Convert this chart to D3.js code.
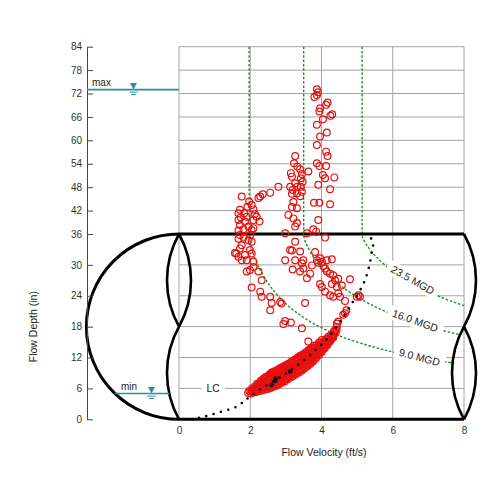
<!DOCTYPE html>
<html>
<head>
<meta charset="utf-8">
<title>Flow Depth vs Flow Velocity</title>
<style>
  body { margin: 0; background: #fff; }
  text { font-family: "Liberation Sans", Arial, sans-serif; }
</style>
</head>
<body>
<script src="https://d3js.org/d3.v7.min.js"></script>
<script>

var xTicks = [0, 2, 4, 6, 8];
var yTicks = [0, 6, 12, 18, 24, 30, 36, 42, 48, 54, 60, 66, 72, 78, 84];
var pipeDiam = 36;       // in
var maxLevel = 73;       // in
var minLevel = 5;        // in
var mgdNames = ["23.5 MGD", "16.0 MGD", "9.0 MGD"];

// iso-flow lines [velocity ft/s, depth in]
var iso235 = [[5.14,84],[5.14,36],[5.36,33],[5.78,30],[6.39,27],[7.26,24],[7.62,23],[8.0,22.1]];
var iso16  = [[3.5,84],[3.5,36],[3.65,33],[3.93,30],[4.35,27],[4.95,24],[5.78,21],[6.54,19],[7.0,18],[7.54,17],[7.9,16.4]];
var iso9   = [[1.97,84],[1.97,36],[2.05,33],[2.21,30],[2.45,27],[2.78,24],[3.25,21],[3.94,18],[5.0,15],[6.75,12],[7.72,10.9]];

// LC curve
var lcCurve = [[0.35,0],[0.7,0.5],[1.15,1.4],[1.57,2.3],[1.81,3.4],[1.97,4.3],[2.4,6.4],[2.8,8.0],[3.2,9.9],
  [3.6,12.0],[4.0,14.5],[4.3,16.8],[4.61,19.9],[4.86,22.6],[5.0,24.1],[5.2,26.7],[5.34,29.8],[5.42,32.9],
  [5.45,34.4],[5.32,35.8]];

// observed points, scattered part
var obsScatter = [
  [3.87,73.1],[3.90,72.3],[3.87,71.6],[3.80,71.1],[4.17,69.7],[4.13,69.1],[3.96,68.2],[3.94,67.4],[4.30,66.7],
  [4.25,66.3],[4.04,65.4],[3.87,64.0],[4.15,62.0],[3.96,61.0],[3.87,58.8],[4.13,57.1],[4.17,56.0],[3.26,56.0],
  [3.87,54.1],[3.94,53.4],[4.13,53.4],[3.63,52.0],[3.23,54.1],[3.32,53.3],[3.40,52.6],[3.45,51.4],[3.42,50.3],
  [3.47,49.4],[3.14,51.6],[3.17,50.7],[4.04,51.1],[4.10,50.3],[4.36,50.5],[3.26,49.0],[3.32,48.1],[3.42,48.1],
  [3.12,48.1],[3.19,47.3],[3.45,46.8],[3.31,46.4],[3.40,45.7],[3.17,46.3],[3.91,48.6],[4.24,47.5],[2.79,48.1],
  [2.56,46.6],[2.35,46.2],[2.28,45.6],[2.23,45.2],[1.76,45.6],[1.97,44.3],[2.04,43.4],[1.92,43.0],[2.09,42.3],
  [1.71,42.2],[1.67,41.3],[1.83,41.3],[1.73,40.3],[1.90,40.4],[2.13,41.1],[2.18,40.4],[2.09,39.6],[2.26,39.2],
  [1.85,39.2],[1.67,39.6],[1.71,38.3],[1.95,37.9],[1.81,37.2],[2.04,37.0],[1.67,36.9],[2.09,37.5],[3.21,44.2],
  [3.17,42.9],[3.31,42.6],[3.07,40.9],[3.21,40.0],[3.31,38.8],[3.26,37.9],[3.94,44.0],[3.79,44.0],[4.24,43.6],
  [3.91,39.6],[3.77,37.2],[3.85,36.6],[3.59,36.2],[2.98,36.2],[4.10,35.3],
  [1.71,35.8],[1.67,35.1],[1.81,35.3],[1.95,34.8],[2.04,34.5],[2.0,35.8],[1.76,33.8],[1.71,33.2],[1.61,32.2],
  [1.57,32.3],[1.67,31.6],[1.76,30.9],[1.85,31.9],[1.99,32.9],[2.04,32.2],[1.90,30.9],[2.09,30.6],[1.90,28.7],
  [1.99,29.0],[2.23,28.7],[2.09,29.6],[2.32,27.0],[2.04,25.6],[2.28,24.8],[2.32,23.8],[2.56,23.8],[2.60,22.6],
  [2.84,22.8],[2.88,22.5],[2.56,21.2],[3.54,22.6],[2.98,19.1],[2.93,18.5],[3.14,18.8],[3.45,17.7],[3.63,15.1],
  [3.26,34.5],[3.12,32.9],[3.17,32.8],[3.40,32.6],[2.98,30.9],[3.26,30.9],[3.19,29.1],[3.45,30.3],[3.49,30.9],
  [3.40,28.7],[3.68,28.3],[3.59,27.4],[3.49,29.3],[3.73,29.9],[3.82,32.5],[3.87,30.9],[3.96,31.3],[3.91,30.4],
  [4.01,30.6],[4.05,29.8],[4.15,30.9],[4.29,31.1],[4.10,29.3],[4.15,28.7],[4.24,28.3],[4.33,28.0],[4.38,27.0],
  [4.47,27.3],[4.29,26.3],[4.43,25.7],[4.57,26.0],[4.80,27.2],[3.96,26.3],[4.01,25.7],[4.10,24.8],[4.24,24.1],
  [4.33,23.8],[4.47,24.5],[4.52,23.8],[4.66,23.0],[4.70,21.2],[4.66,20.6],[4.47,19.0],[4.43,18.0],[4.38,17.3],
  [5.04,24.1],[5.08,23.8],[4.99,23.8],[4.43,18.6],[4.61,20.3]
];

// observed points, dense band at low flows
var obsBand = [
  [1.94,5.1],[1.97,5.5],[2.02,5.0],[2.03,5.6],[2.05,6.0],[2.09,5.2],[2.11,5.8],[2.12,6.3],
  [2.17,5.3],[2.18,5.9],[2.2,6.4],[2.19,6.9],[2.25,5.5],[2.27,6.1],[2.26,6.6],[2.28,7.2],
  [2.33,5.6],[2.34,6.2],[2.36,6.8],[2.35,7.4],[2.37,7.9],[2.41,5.8],[2.43,6.4],[2.42,7.0],[2.44,7.6],[2.43,8.2],
  [2.49,5.9],[2.51,6.5],[2.5,7.2],[2.52,7.8],[2.5,8.4],[2.57,6.1],[2.59,6.7],[2.58,7.3],[2.6,7.9],[2.57,8.6],[2.6,9.1],
  [2.65,6.3],[2.67,6.9],[2.66,7.5],[2.68,8.1],[2.65,8.8],[2.67,9.3],[2.73,6.5],[2.75,7.1],[2.74,7.8],[2.76,8.4],[2.73,9.0],[2.75,9.6],
  [2.81,6.8],[2.83,7.4],[2.82,8.1],[2.84,8.7],[2.81,9.3],[2.83,9.9],[2.89,7.1],[2.91,7.7],[2.9,8.3],[2.92,8.9],[2.89,9.6],[2.91,10.2],
  [2.97,7.4],[2.99,8.0],[2.98,8.6],[3.0,9.3],[2.97,9.9],[2.99,10.5],[3.05,7.8],[3.07,8.4],[3.06,9.0],[3.08,9.7],[3.05,10.3],[3.07,10.8],
  [3.13,8.1],[3.15,8.8],[3.14,9.4],[3.16,10.0],[3.13,10.6],[3.15,11.2],[3.21,8.4],[3.23,9.1],[3.22,9.7],[3.24,10.3],[3.21,11.0],[3.23,11.5],
  [3.29,8.8],[3.31,9.5],[3.3,10.1],[3.32,10.7],[3.29,11.3],[3.31,11.9],[3.37,9.1],[3.39,9.8],[3.38,10.4],[3.4,11.1],[3.37,11.7],[3.39,12.3],
  [3.45,9.5],[3.47,10.2],[3.46,10.8],[3.48,11.4],[3.45,12.1],[3.47,12.6],[3.53,9.9],[3.55,10.6],[3.54,11.2],[3.56,11.8],[3.53,12.5],[3.55,13.0],
  [3.61,10.3],[3.63,11.0],[3.62,11.6],[3.64,12.3],[3.61,12.9],[3.63,13.4],[3.69,10.8],[3.71,11.5],[3.7,12.1],[3.72,12.7],[3.69,13.4],[3.71,13.9],
  [3.77,11.3],[3.79,12.0],[3.78,12.6],[3.8,13.2],[3.77,13.8],[3.79,14.3],[3.85,11.9],[3.87,12.6],[3.86,13.2],[3.88,13.8],[3.85,14.4],
  [3.93,12.5],[3.95,13.1],[3.94,13.7],[3.96,14.3],[3.93,14.9],[4.01,13.1],[4.03,13.7],[4.02,14.3],[4.04,14.9],[4.01,15.4],
  [4.09,13.8],[4.11,14.4],[4.1,15.0],[4.12,15.5],[4.17,14.5],[4.19,15.1],[4.18,15.6],[4.2,16.1],
  [4.25,15.2],[4.27,15.8],[4.26,16.3],[4.33,15.9],[4.35,16.5],[4.34,17.0],[4.4,16.8],[4.42,17.4],
  [2.06,5.4],[2.14,5.5],[2.14,6.1],[2.22,5.7],[2.22,6.2],[2.22,6.7],[2.3,5.8],[2.3,6.4],[2.3,6.9],[2.3,7.5],
  [2.38,6.0],[2.38,6.6],[2.38,7.2],[2.38,7.8],[2.46,6.2],[2.46,6.8],[2.46,7.4],[2.46,8.0],
  [2.54,6.3],[2.54,6.9],[2.54,7.5],[2.54,8.1],[2.54,8.7],[2.62,6.5],[2.62,7.1],[2.62,7.7],[2.62,8.3],[2.62,8.9],
  [2.7,6.7],[2.7,7.3],[2.7,8.0],[2.7,8.6],[2.7,9.2],[2.78,7.0],[2.78,7.6],[2.78,8.2],[2.78,8.9],[2.78,9.5],
  [2.86,7.3],[2.86,7.9],[2.86,8.5],[2.86,9.2],[2.86,9.8],[2.94,7.6],[2.94,8.2],[2.94,8.9],[2.94,9.5],[2.94,10.1],
  [3.02,7.9],[3.02,8.6],[3.02,9.2],[3.02,9.8],[3.02,10.4],[3.1,8.3],[3.1,8.9],[3.1,9.5],[3.1,10.2],[3.1,10.8],
  [3.18,8.6],[3.18,9.2],[3.18,9.9],[3.18,10.5],[3.18,11.1],[3.26,8.9],[3.26,9.6],[3.26,10.2],[3.26,10.8],[3.26,11.5],
  [3.34,9.3],[3.34,9.9],[3.34,10.6],[3.34,11.2],[3.34,11.8],[3.42,9.6],[3.42,10.3],[3.42,10.9],[3.42,11.6],[3.42,12.2],
  [3.5,10.0],[3.5,10.7],[3.5,11.3],[3.5,12.0],[3.5,12.6],[3.58,10.4],[3.58,11.1],[3.58,11.7],[3.58,12.4],[3.58,13.0],
  [3.66,10.9],[3.66,11.5],[3.66,12.2],[3.66,12.8],[3.66,13.4],[3.74,11.4],[3.74,12.0],[3.74,12.7],[3.74,13.3],[3.74,13.8],
  [3.82,11.9],[3.82,12.5],[3.82,13.2],[3.82,13.8],[3.9,12.5],[3.9,13.1],[3.9,13.7],[3.9,14.3],
  [3.98,13.1],[3.98,13.7],[3.98,14.3],[3.98,14.9],[4.06,13.7],[4.06,14.3],[4.06,14.9],
  [4.14,14.4],[4.14,15.0],[4.14,15.6],[4.22,15.1],[4.22,15.7],[4.3,15.8],[4.3,16.3]
];

// darker overlapping marks inside the band
var obsDark = [[2.60,6.7],[2.70,7.5],[2.71,7.9],[3.12,9.3]];

var svg = d3.select("body").append("svg")
    .attr("width", 500)
    .attr("height", 500);

var x = d3.scaleLinear().domain([0, 8]).range([179, 464]);
// depth axis is stretched below the pipe crown
var y = d3.scaleLinear().domain([0, 36, 84]).range([419.3, 234, 46.7]);

var grey = "#a4a4a4", teal = "#2b8ea6", green = "#1f8f1f", red = "#e81010";

// grid
svg.append("g").selectAll("line").data(yTicks).enter().append("line")
    .attr("x1", x(0)).attr("x2", x(8))
    .attr("y1", function(d){ return y(d); }).attr("y2", function(d){ return y(d); })
    .attr("stroke", grey).attr("stroke-width", 1);
svg.append("g").selectAll("line").data(xTicks).enter().append("line")
    .attr("x1", function(d){ return x(d); }).attr("x2", function(d){ return x(d); })
    .attr("y1", y(0)).attr("y2", y(84))
    .attr("stroke", grey).attr("stroke-width", 1);

// iso-flow lines
var isoLine = d3.line()
    .x(function(d){ return x(d[0]); })
    .y(function(d){ return y(d[1]); })
    .curve(d3.curveMonotoneY);
svg.append("g").selectAll("path").data([iso235, iso16, iso9]).enter().append("path")
    .attr("d", isoLine)
    .attr("fill", "none")
    .attr("stroke", green)
    .attr("stroke-width", 1.4)
    .attr("stroke-dasharray", "2.5,1.8");

// labels with white boxes
function boxLabel(txt, px, py, angle) {
  var g = svg.append("g").attr("transform", "translate(" + px + "," + py + ") rotate(" + angle + ")");
  var r = g.append("rect").attr("fill", "#fff");
  var t = g.append("text").attr("text-anchor", "middle").attr("dy", "0.35em")
      .attr("font-size", 10.5).attr("fill", "#222").text(txt);
  var w = t.node().getComputedTextLength();
  r.attr("x", -w / 2 - 5).attr("y", -7).attr("width", w + 10).attr("height", 14);
}
boxLabel(mgdNames[0], x(6.56), y(27.06), 29.6);
boxLabel(mgdNames[1], x(6.63), y(19.15), 19.5);
boxLabel(mgdNames[2], x(6.75), y(12.05), 15);
boxLabel("LC", x(0.96), y(6), 0);

// pipe outline
var X0 = x(0), X8 = x(8), YT = y(pipeDiam), YM = y(pipeDiam / 2), YB = y(0);
var R = (YB - YT) / 2;
var lobe = 12, half = YM - YT;
var ar = (half * half / 4 + lobe * lobe) / (2 * lobe);
var pipe = svg.append("g").attr("fill", "none").attr("stroke", "#000");
pipe.append("path").attr("stroke-width", 3)
    .attr("d", "M" + X0 + "," + YT + "H" + X8 + "M" + X0 + "," + YB + "H" + X8 +
               "M" + X0 + "," + YT + "A" + R + "," + R + " 0 0 0 " + X0 + "," + YB);
function arc(px, y0, y1, sweep) {
  return "M" + px + "," + y0 + "A" + ar + "," + ar + " 0 0 " + sweep + " " + px + "," + y1;
}
pipe.append("path").attr("stroke-width", 2.6)
    .attr("d", arc(X0, YT, YM, 1) + arc(X0, YT, YM, 0) + arc(X0, YM, YB, 0) +
               arc(X8, YT, YM, 1) + arc(X8, YM, YB, 1) + arc(X8, YM, YB, 0));

// observations
var pts = svg.append("g").attr("fill", "none").attr("stroke", red).attr("stroke-width", 1.2);
pts.selectAll("circle").data(obsScatter.concat(obsBand)).enter().append("circle")
    .attr("cx", function(d){ return x(d[0]); })
    .attr("cy", function(d){ return y(d[1]); })
    .attr("r", 3.4);
svg.append("g").selectAll("circle").data(obsDark).enter().append("circle")
    .attr("cx", function(d){ return x(d[0]); })
    .attr("cy", function(d){ return y(d[1]); })
    .attr("r", 2.3).attr("fill", "#111");

// LC curve, dotted
svg.append("path")
    .attr("d", d3.line().x(function(d){ return x(d[0]); }).y(function(d){ return y(d[1]); })
        .curve(d3.curveCatmullRom)(lcCurve))
    .attr("fill", "none").attr("stroke", "#000").attr("stroke-width", 2.6)
    .attr("stroke-linecap", "round").attr("stroke-dasharray", "0,7.6");

// axes
var yAxis = svg.append("g").attr("transform", "translate(87,0)")
    .call(d3.axisLeft(y).tickValues(yTicks).tickSize(-6).tickSizeOuter(0).tickPadding(5));
yAxis.selectAll("path, line").attr("stroke", "#444");
yAxis.selectAll("text").attr("font-size", 10).attr("fill", "#333")
    .attr("font-family", "'Liberation Sans', Arial, sans-serif");

var xAxis = svg.append("g").attr("transform", "translate(0," + y(0) + ")")
    .call(d3.axisBottom(x).tickValues(xTicks).tickSize(0).tickPadding(7.5));
xAxis.select(".domain").remove();
xAxis.selectAll("text").attr("font-size", 10).attr("fill", "#333")
    .attr("font-family", "'Liberation Sans', Arial, sans-serif");

svg.append("text").attr("x", 324).attr("y", 456).attr("text-anchor", "middle")
    .attr("font-size", 10.5).attr("fill", "#222").text("Flow Velocity (ft/s)");
svg.append("text").attr("transform", "translate(37," + YM + ") rotate(-90)")
    .attr("text-anchor", "middle").attr("font-size", 10.5).attr("fill", "#222").text("Flow Depth (in)");

// max / min levels
function level(x1, x2, yy, sx, name, tx) {
  var g = svg.append("g");
  g.append("line").attr("x1", x1).attr("x2", x2).attr("y1", yy).attr("y2", yy)
      .attr("stroke", teal).attr("stroke-width", 1.6);
  g.append("path").attr("d", "M" + (sx - 3.5) + "," + (yy - 6.5) + "L" + (sx + 3.5) + "," + (yy - 6.5) + "L" + sx + "," + yy + "Z")
      .attr("fill", teal);
  g.append("path").attr("d", "M" + (sx - 4) + "," + (yy + 2.5) + "H" + (sx + 4) + "M" + (sx - 2.5) + "," + (yy + 5) + "H" + (sx + 2.5))
      .attr("stroke", teal).attr("stroke-width", 1);
  g.append("text").attr("x", tx).attr("y", yy - 3.5).attr("font-size", 10).attr("fill", "#222").text(name);
}
level(87, X0, y(maxLevel), 133.5, "max", 92);
var ym = y(minLevel);
var xSemi = X0 - Math.sqrt(R * R - (ym - YM) * (ym - YM));
var cyArc = (YM + YB) / 2, cxArc = X0 - lobe + ar;
var xLobe = cxArc - Math.sqrt(ar * ar - (ym - cyArc) * (ym - cyArc));
level(xSemi, xLobe, ym, 151.5, "min", 121);

</script>
</body>
</html>
